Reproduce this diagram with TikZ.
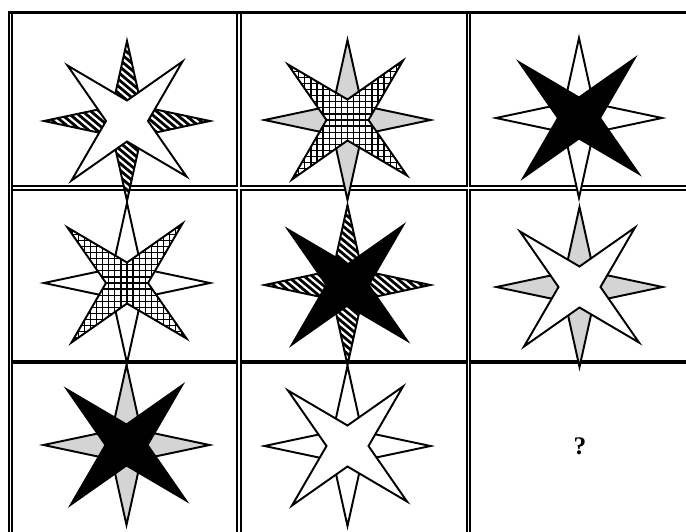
\documentclass[tikz,border=0pt]{standalone}
\usepackage{fontspec}
\setmainfont{Liberation Serif}
\definecolor{fillgraycol}{RGB}{212,212,212}
\tikzset{
  outline/.style={draw=black, line width=1.45pt, line join=miter},
  hatchline/.style={line width=2.1pt, black},
  gridline/.style={line width=1pt, black},
  rule/.style={draw=black, line cap=butt},
  gap/.style={draw=white, line cap=butt},
}
\def\PlusPath{(0,-80) -- (14.5,-14.5) -- (83,0) -- (14.5,14.5) -- (0,80) -- (-14.5,14.5) -- (-83,0) -- (-14.5,-14.5) -- cycle}
\def\XPath{(-59.5,-55.5) -- (0,-20.5) -- (55.5,-59.5) -- (21,0) -- (59.5,55.5) -- (0,20.5) -- (-55.5,59.5) -- (-21,0) -- cycle}
\newcommand\stfillwhite[1]{\fill[white] #1;}
\newcommand\stfillblack[1]{\fill[black] #1;}
\newcommand\stfillgray[1]{\fill[fillgraycol] #1;}
\newcommand\stfillhatch[1]{\begin{scope}\clip #1;\fill[white] (-100,-100) rectangle (100,100);\foreach \k in {-25,...,25}{\draw[hatchline] (\k*8.2-100,-84) -- ++(200,168);}\end{scope}}
\newcommand\stfillgrid[1]{\begin{scope}\clip #1;\fill[white] (-100,-100) rectangle (100,100);\foreach \k in {-16,...,16}{\draw[gridline] (\k*6.1,-95) -- (\k*6.1,95);\draw[gridline] (-95,\k*6.1) -- (95,\k*6.1);}\end{scope}}
\newcommand\stshape[2]{\csname stfill#1\endcsname{#2}\draw[outline] #2;}
\newcommand\octastar[3]{\begin{scope}[shift={(#1)}]\stshape{#2}{\PlusPath}\stshape{#3}{\XPath}\end{scope}}
\begin{document}
\begin{tikzpicture}[x=0.75pt,y=-0.75pt]
\useasboundingbox (0,0) rectangle (686,532);
\fill[white] (0,0) rectangle (686,532);
% black rules
\draw[rule, line width=2.5pt] (8,12.7) -- (686,12.7);
\draw[rule, line width=1.7pt] (9.15,11) -- (9.15,532);
\draw[rule, line width=1.05pt] (12,11) -- (12,532);
\draw[rule, line width=1.7pt] (237.15,14) -- (237.15,532);
\draw[rule, line width=1.5pt] (241,14) -- (241,532);
\draw[rule, line width=1.5pt] (467,14) -- (467,532);
\draw[rule, line width=1.5pt] (470,14) -- (470,532);
\draw[rule, line width=1.7pt] (8,186.15) -- (686,186.15);
\draw[rule, line width=1.3pt] (8,189.85) -- (686,189.85);
\draw[rule, line width=3pt] (8,362) -- (686,362);
% white gaps
\draw[gap, line width=1.25pt] (239.15,14.3) -- (239.15,532);
\draw[gap, line width=0.9pt] (468.5,14.3) -- (468.5,532);
\draw[gap, line width=1.25pt] (12.7,188.1) -- (686,188.1);
\draw[gap, line width=0.75pt] (10.8,14.3) -- (10.8,532);
% stars
\octastar{127,121}{hatch}{white}
\octastar{347.5,120}{gray}{grid}
\octastar{579,118}{white}{black}
\octastar{127,283}{white}{grid}
\octastar{347.5,285}{hatch}{black}
\octastar{579.5,287}{gray}{white}
\octastar{126.5,445}{gray}{black}
\octastar{347.5,446}{white}{white}
\node[font=\bfseries\fontsize{19}{19}\selectfont] (q) at (580,446) {?};
\end{tikzpicture}
\end{document}
